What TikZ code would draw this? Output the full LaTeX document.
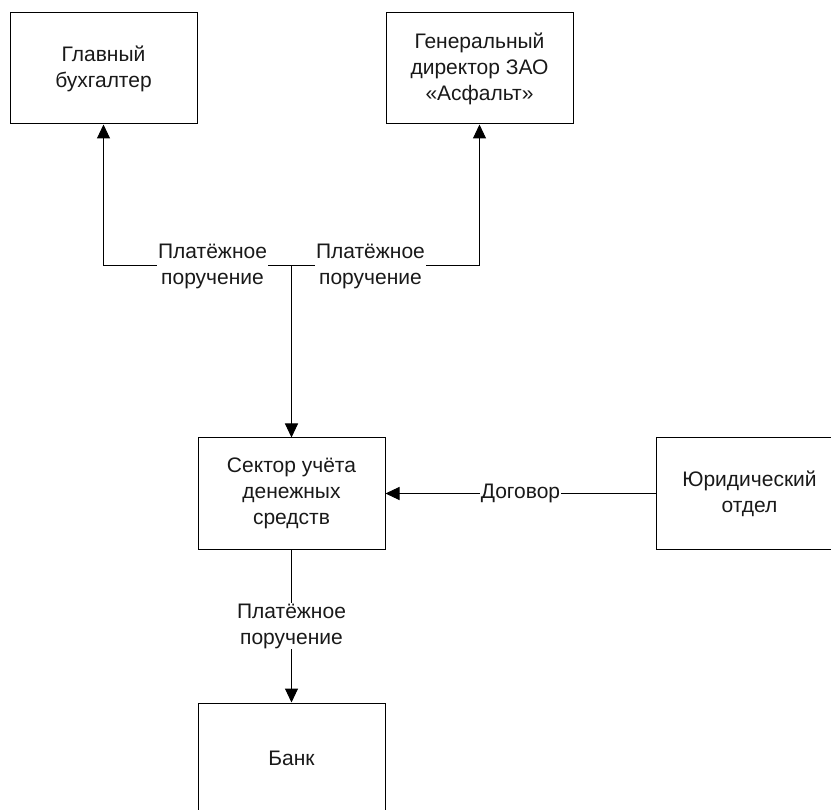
\documentclass[tikz,border=0pt]{standalone}
\usepackage{fontspec}
\setmainfont{Liberation Sans}
\usetikzlibrary{arrows.meta}
\begin{document}
\begin{tikzpicture}[x=1pt,y=-1pt,
  box/.style={draw=black,line width=1pt,minimum width=187pt,minimum height=111pt,inner sep=0pt,align=center,font=\fontsize{21}{26}\selectfont,text=black!90},
  lbl/.style={fill=white,inner sep=1pt,align=center,font=\fontsize{21}{26}\selectfont,text=black!90},
  arr/.style={line width=1pt,-{Triangle[length=14pt,width=13pt]}}]
\path[use as bounding box,clip] (0,0) rectangle (831,810);
\node[box] (gb) at (103.5,68.5) {Главный\\бухгалтер};
\node[box] (gd) at (479.5,68.5) {Генеральный\\директор ЗАО\\«Асфальт»};
\node[box] (sec) at (291.5,493.5) {Сектор учёта\\денежных\\средств};
\node[box] (yur) at (749.5,493.5) {Юридический\\отдел};
\node[box] (bank) at (291.5,758.5) {Банк};
\coordinate (j) at (291.5,266);
\draw[arr] (j) -| node[lbl,pos=0.21] {Платёжное\\поручение} (gb);
\draw[arr] (j) -| node[lbl,pos=0.21] {Платёжное\\поручение} (gd);
\draw[arr] (j) -- (sec);
\draw[arr] (yur) -- node[lbl] {Договор} (sec);
\draw[arr] (sec) -- node[lbl] {Платёжное\\поручение} (bank);
\end{tikzpicture}
\end{document}
